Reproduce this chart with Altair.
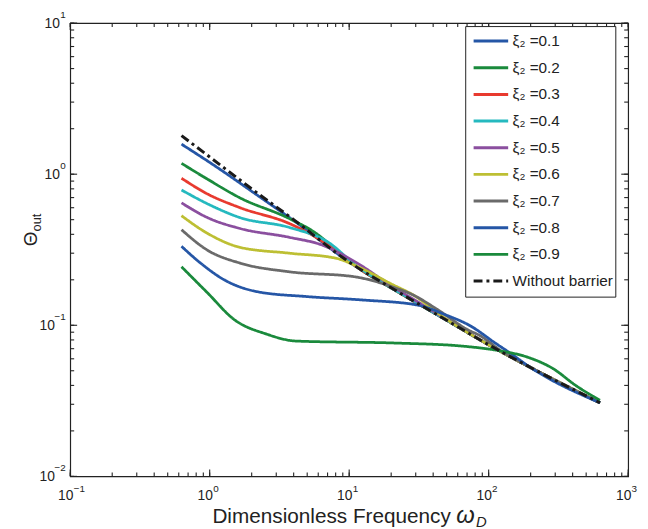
import altair as alt
import pandas as pd

# ---------------- data ----------------
series_labels = ["ξ₂ =0.1", "ξ₂ =0.2", "ξ₂ =0.3", "ξ₂ =0.4", "ξ₂ =0.5",
                 "ξ₂ =0.6", "ξ₂ =0.7", "ξ₂ =0.8", "ξ₂ =0.9", "Without barrier\u00a0\u00a0\u00a0"]

w01 = [0.628, 1.13, 2.18, 4.18, 10, 20, 50, 100, 200, 628]
t01 = [1.58, 1.11, 0.729, 0.479, 0.262, 0.177, 0.108, 0.0743, 0.0525, 0.0307]

w02 = [0.628, 0.964, 1.65, 3.73, 5.79, 8.0, 12, 20, 50, 100, 200, 628]
t02 = [1.18, 0.927, 0.697, 0.508, 0.406, 0.318, 0.235, 0.177, 0.108, 0.0743, 0.0525, 0.0307]

w03 = [0.628, 0.964, 1.65, 3.73, 5.79, 8.5, 12, 20, 50, 100, 200, 628]
t03 = [0.94, 0.74, 0.60, 0.471, 0.382, 0.300, 0.235, 0.177, 0.108, 0.0743, 0.0525, 0.0307]

w04 = [0.628, 0.964, 1.65, 3.73, 7.16, 11.1, 16, 25, 50, 100, 200, 628]
t04 = [0.786, 0.637, 0.516, 0.444, 0.352, 0.250, 0.200, 0.157, 0.108, 0.0743, 0.0525, 0.0307]

w05 = [0.628, 0.964, 1.65, 3.73, 6.49, 11.1, 20, 33, 50, 100, 200, 628]
t05 = [0.646, 0.516, 0.437, 0.382, 0.338, 0.262, 0.183, 0.138, 0.109, 0.0743, 0.0525, 0.0307]

w06 = [0.628, 0.964, 1.65, 3.73, 8.02, 12, 20, 30, 45, 100, 200, 628]
t06 = [0.531, 0.406, 0.328, 0.300, 0.278, 0.240, 0.188, 0.155, 0.117, 0.0743, 0.0525, 0.0307]

w07 = [0.628, 0.964, 1.65, 3.73, 11.1, 21.3, 28.2, 43, 70, 88, 122, 200, 628]
t07 = [0.429, 0.314, 0.258, 0.226, 0.209, 0.177, 0.160, 0.127, 0.094, 0.0847, 0.068, 0.0525, 0.0307]

w08 = [0.628, 0.86, 1.27, 2.18, 4.92, 12.5, 31, 48.2, 74.8, 109, 144, 200, 628]
t08 = [0.333, 0.258, 0.200, 0.167, 0.155, 0.147, 0.136, 0.118, 0.0985, 0.0774, 0.065, 0.0525, 0.0307]

w09 = [0.628, 0.964, 1.50, 2.56, 4.18, 21.3, 63.6, 122, 187, 290, 422, 628]
t09 = [0.244, 0.164, 0.109, 0.0874, 0.0786, 0.0763, 0.0729, 0.0676, 0.0618, 0.0516, 0.0399, 0.0319]

w_nb = [0.628, 1, 2, 4, 10, 20, 50, 100, 200, 628]
t_nb = [1.80, 1.30, 0.80, 0.50, 0.262, 0.177, 0.108, 0.0743, 0.0525, 0.0307]

x_major = [0.1, 1, 10, 100, 1000]
y_major = [0.01, 0.1, 1, 10]
x_ticks = [round(m * 10 ** e, 10) for e in range(-1, 3) for m in range(1, 10)] + [1000]
y_ticks = [round(m * 10 ** e, 10) for e in range(-2, 1) for m in range(1, 10)] + [10]

# ---------------- styles ----------------
colors = ["#2556a6", "#1a8a3c", "#e83a2f", "#25b9bf", "#8b4f9f",
          "#bdbf33", "#6a6a6a", "#2556a6", "#1a8a3c", "#1a1a1a"]
dashes = [[1, 0]] * 9 + [[9, 4, 3, 4]]

W, H = 565, 459
FONT = "Liberation Sans"
INK = "#222"

rows = []
for lab, ws, ts in zip(series_labels,
                       [w01, w02, w03, w04, w05, w06, w07, w08, w09, w_nb],
                       [t01, t02, t03, t04, t05, t06, t07, t08, t09, t_nb]):
    for i, (a, b) in enumerate(zip(ws, ts)):
        rows.append({"series": lab, "omega": a, "theta": b, "idx": i})
df = pd.DataFrame(rows)
df_col = df[df.series != series_labels[-1]]
df_blk = df[df.series == series_labels[-1]]

xs = alt.Scale(type="log", domain=[0.1, 1000], nice=False)
ys = alt.Scale(type="log", domain=[0.01, 10], nice=False)

color_enc = alt.Color("series:N", scale=alt.Scale(domain=series_labels, range=colors),
                      legend=alt.Legend(orient="none", legendX=400, legendY=3, title=None,
                                        symbolType="stroke", symbolSize=1225, symbolStrokeWidth=3,
                                        symbolOffset=5, clipHeight=26.4,
                                        labelFont=FONT, labelFontSize=15.5, labelColor=INK,
                                        strokeColor=INK, fillColor="white", padding=2,
                                        rowPadding=0, labelOffset=3, labelLimit=250))
dash_enc = alt.StrokeDash("series:N", scale=alt.Scale(domain=series_labels, range=dashes), legend=None)

EXP = "format(round(log(datum.value)/LN10), 'd')"

x_main = alt.Axis(orient="bottom", values=x_major, labelExpr="'10'", ticks=False, domain=False,
                  grid=False, labelFont=FONT, labelFontSize=14, labelColor=INK, labelAlign="center",
                  labelOffset=-5, labelPadding=12, labelBaseline="top", labelFlush=False,
                  labelOverlap=False, title=None)
y_main = alt.Axis(orient="left", values=y_major, labelExpr="'10'", ticks=False, domain=False,
                  grid=False, labelFont=FONT, labelFontSize=14, labelColor=INK, labelAlign="right",
                  labelBaseline="middle",
                  labelPadding={"condition": {"test": "datum.value < 1", "value": 16}, "value": 11},
                  labelFlush=False, labelOverlap=False, title=None)

lines = alt.Chart(df_col).mark_line(strokeWidth=2.8, interpolate="monotone").encode(
    x=alt.X("omega:Q", scale=xs, axis=x_main),
    y=alt.Y("theta:Q", scale=ys, axis=y_main),
    color=color_enc, strokeDash=dash_enc, order="idx:Q")

black = alt.Chart(df_blk).mark_line(strokeWidth=3, interpolate="monotone").encode(
    x=alt.X("omega:Q", scale=xs, axis=None),
    y=alt.Y("theta:Q", scale=ys, axis=None),
    color=color_enc, strokeDash=dash_enc, order="idx:Q")

exps = alt.Chart(df_blk).mark_line(opacity=0).encode(
    x=alt.X("omega:Q", scale=xs, axis=alt.Axis(
        orient="bottom", values=x_major, labelExpr=EXP, ticks=False, domain=False, grid=False,
        labelFont=FONT, labelFontSize=10, labelColor=INK, labelAlign="left", labelOffset=3,
        labelPadding=7, labelBaseline="top", labelFlush=False, labelOverlap=False, title=None)),
    y=alt.Y("theta:Q", scale=ys, axis=alt.Axis(
        orient="left", values=y_major, labelExpr=EXP, ticks=False, domain=False, grid=False,
        labelFont=FONT, labelFontSize=10, labelColor=INK, labelAlign="right", labelOffset=-9,
        labelPadding=5, labelBaseline="middle", labelFlush=False, labelOverlap=False, title=None)))

# inward MATLAB-style ticks on all four edges, positioned through the scales
tick_layers = []
for vals, size in [(x_ticks, 4), (x_major, 7)]:
    tdf = pd.DataFrame({"t": vals})
    for y0, y1 in [(H, H - size), (0, size)]:
        tick_layers.append(alt.Chart(tdf).mark_rule(color=INK, strokeWidth=1.1).encode(
            x=alt.X("t:Q", scale=xs, axis=None), y=alt.value(y0), y2=alt.value(y1)))
for vals, size in [(y_ticks, 4), (y_major, 7)]:
    tdf = pd.DataFrame({"t": vals})
    for x0, x1 in [(0, size), (W, W - size)]:
        tick_layers.append(alt.Chart(tdf).mark_rule(color=INK, strokeWidth=1.1).encode(
            y=alt.Y("t:Q", scale=ys, axis=None), x=alt.value(x0), x2=alt.value(x1)))

one = pd.DataFrame({"a": [0]})
xt1 = alt.Chart(one).mark_text(font=FONT, fontSize=21, align="left", baseline="alphabetic",
                               color=INK).encode(
    x=alt.value(144), y=alt.value(506), text=alt.value("Dimensionless Frequency"))
xt2 = alt.Chart(one).mark_text(font=FONT, fontSize=24, align="left", baseline="alphabetic",
                               fontStyle="italic", color=INK).encode(
    x=alt.value(391), y=alt.value(506), text=alt.value("ω"))
xt3 = alt.Chart(one).mark_text(font=FONT, fontSize=15, align="left", baseline="alphabetic",
                               fontStyle="italic", color=INK).encode(
    x=alt.value(411), y=alt.value(510), text=alt.value("D"))
yt1 = alt.Chart(one).mark_text(font=FONT, fontSize=19, align="left", baseline="alphabetic",
                               angle=270, color=INK).encode(
    x=alt.value(-34), y=alt.value(226), text=alt.value("Θ"))
yt2 = alt.Chart(one).mark_text(font=FONT, fontSize=13, align="left", baseline="alphabetic",
                               angle=270, color=INK).encode(
    x=alt.value(-30), y=alt.value(211), text=alt.value("out"))

chart = alt.layer(lines, black, exps, *tick_layers, xt1, xt2, xt3, yt1, yt2).resolve_axis(
    x="independent", y="independent").properties(
    width=W, height=H, autosize=alt.AutoSizeParams(type="none"),
    padding={"left": 63, "top": 12, "right": 12, "bottom": 50}).configure_view(
    stroke=INK, strokeWidth=1.2)

chart.save("out.html", embed_options={"renderer": "svg", "actions": False})
